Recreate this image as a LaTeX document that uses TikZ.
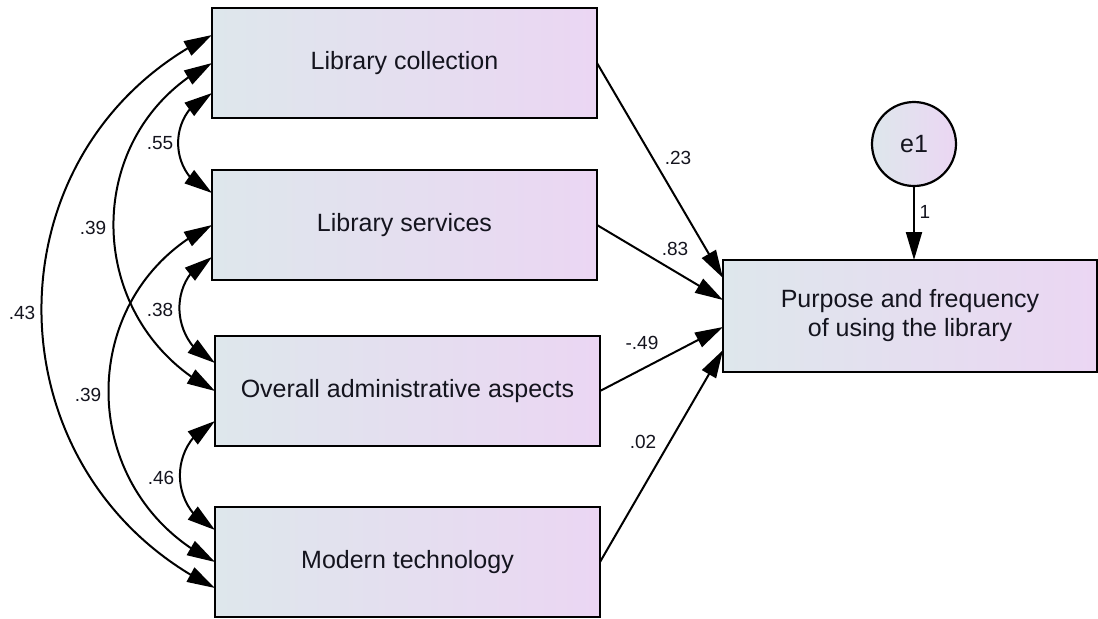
\documentclass[tikz,border=0pt]{standalone}
\usepackage{fontspec}
\setmainfont{Liberation Sans}
\usetikzlibrary{arrows.meta,calc,bending}
\definecolor{boxL}{RGB}{222,231,236}
\definecolor{boxR}{RGB}{235,214,243}
\definecolor{txt}{RGB}{20,20,30}
\begin{document}
\begin{tikzpicture}[x=0.5pt,y=-0.5pt,
  var/.style={draw=black, line width=1.3pt, rectangle, minimum width=192.5pt, minimum height=55pt,
    inner sep=0pt, outer sep=0pt, left color=boxL, right color=boxR, text=txt,
    font=\fontsize{12.5}{14.5}\selectfont, align=center},
  err/.style={draw=black, line width=1.1pt, circle, minimum size=42pt, inner sep=0pt, outer sep=0pt,
    left color=boxL, right color=boxR, text=txt, font=\fontsize{12.5}{14.5}\selectfont},
  reg/.style={-{Triangle[length=14pt,width=8pt]}, line width=1pt},
  cov/.style={{Triangle[length=14pt,width=8pt,flex]}-{Triangle[length=14pt,width=8pt,flex]}, line width=1pt},
  lab/.style={font=\fontsize{9.5}{11}\selectfont, text=txt, inner sep=0pt}
]
\useasboundingbox (0,0) rectangle (1098,618);

% observed variables
\node[var] (lc) at (404.5,63) {Library collection};
\node[var] (ls) at (404.5,225) {Library services};
\node[var] (oa) at (407.5,391) {Overall administrative aspects};
\node[var] (mt) at (407.5,562) {Modern technology};
\node[var, minimum width=187pt, minimum height=56pt] (dv) at (910,316) {Purpose and frequency\\of using the library};
\node[err] (e1) at (914,144) {e1};

% regression paths
\draw[reg] (lc.east) -- ([yshift=19pt]dv.west);
\draw[reg] (ls.east) -- ([yshift=8pt]dv.west);
\draw[reg] (oa.east) -- ([yshift=-5.5pt]dv.west);
\draw[reg] (mt.east) -- ([yshift=-17pt]dv.west);
\draw[reg] (e1.south) -- (e1.south |- dv.north);

% covariances
\draw[cov] ([yshift=-15pt]lc.west) .. controls +(-45.2,18) and +(-45.2,-18) .. ([yshift=16pt]ls.west);
\draw[cov] ([yshift=-16pt]ls.west) .. controls +(-45.4,20.3) and +(-45.4,-20.3) .. ([yshift=14pt]oa.west);
\draw[cov] ([yshift=-15pt]oa.west) .. controls +(-46.8,21.8) and +(-46.8,-21.8) .. ([yshift=16pt]mt.west);
\draw[cov] (lc.west) .. controls +(-133.4,68.3) and +(-133.4,-68.3) .. (oa.west);
\draw[cov] (ls.west) .. controls +(-140,68.2) and +(-140,-68.2) .. (mt.west);
\draw[cov] ([yshift=14pt]lc.west) .. controls +(-229.4,112.8) and +(-229.4,-112.8) .. ([yshift=-13pt]mt.west);

% labels
\node[lab] (l23) at (678,158) {.23};
\node[lab] (l83) at (675,249) {.83};
\node[lab] (l49) at (642,343) {-.49};
\node[lab] (l02) at (643,442) {.02};
\node[lab] (l1) at (925,212) {1};
\node[lab] (l55) at (160,143) {.55};
\node[lab] (l39a) at (93,228) {.39};
\node[lab] (l43) at (22,313) {.43};
\node[lab] (l38) at (160,310) {.38};
\node[lab] (l39b) at (88,395) {.39};
\node[lab] (l46) at (161,478) {.46};
\end{tikzpicture}
\end{document}
